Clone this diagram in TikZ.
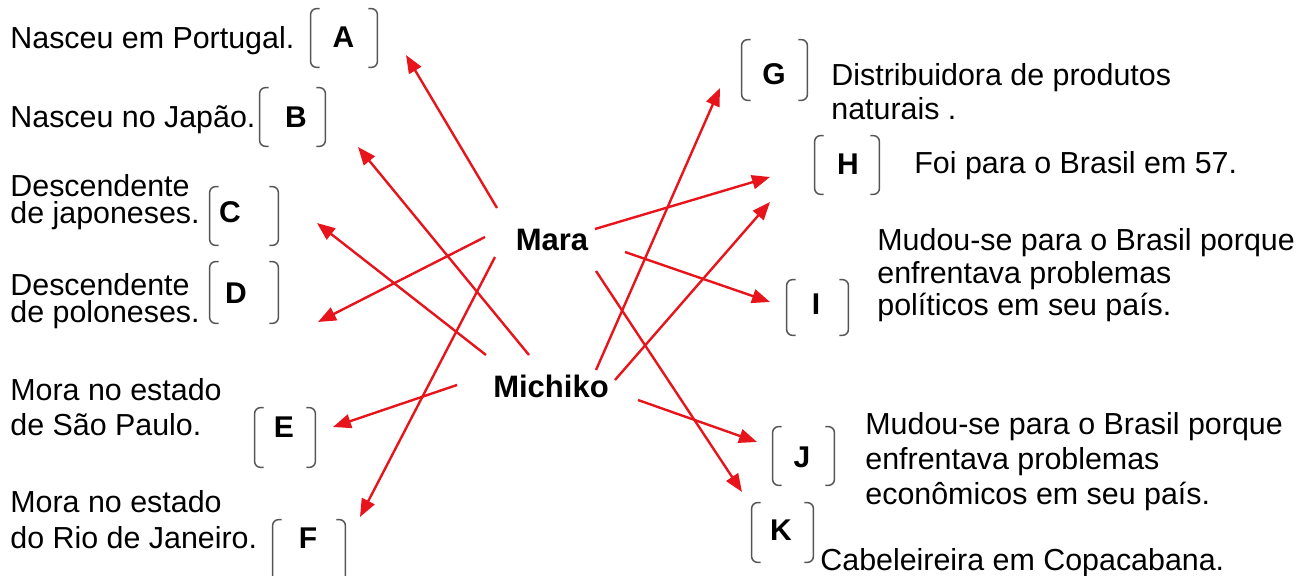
\documentclass[tikz,border=0pt]{standalone}
\usepackage{fontspec}
\setmainfont{Liberation Sans}
\usetikzlibrary{arrows.meta}
\definecolor{arrred}{HTML}{E8141C}
\definecolor{brkgray}{HTML}{555555}
\begin{document}
\begin{tikzpicture}[x=0.5pt,y=-0.5pt,
  txt/.style={anchor=base west, inner sep=0pt, align=left, font=\fontsize{15.2}{17.5}\selectfont},
  who/.style={inner sep=0pt, font=\bfseries\fontsize{15.5}{18}\selectfont},
  letter/.style={inner sep=0pt, font=\bfseries\fontsize{15}{18}\selectfont},
  bbox/.style={inner sep=0pt, draw=none},
  brk/.style={draw=brkgray, line width=0.75pt, rounded corners=3pt},
  arr/.style={draw=arrred, line width=1.2pt, -{Triangle[length=9pt,width=7pt]}},
]
\useasboundingbox (0,0) rectangle (1315,576);

% left texts (anchor = baseline of last line)
\node[txt] (tA) at (10,49) {Nasceu em Portugal.};
\node[txt] (tB) at (10,128) {Nasceu no Japão.};
\node[txt, font=\fontsize{15.2}{13.6}\selectfont] (tC) at (10,224) {Descendente\\de japoneses.};
\node[txt, font=\fontsize{15.2}{13.6}\selectfont] (tD) at (10,323) {Descendente\\de poloneses.};
\node[txt] (tE) at (10,436) {Mora no estado\\de São Paulo.};
\node[txt, font=\fontsize{15.2}{18}\selectfont] (tF) at (10,548) {Mora no estado\\do Rio de Janeiro.};

% right texts
\node[txt, font=\fontsize{15.2}{17}\selectfont] (tG) at (831,120) {Distribuidora de produtos\\naturais .};
\node[txt] (tH) at (914,174) {Foi para o Brasil em 57.};
\node[txt, font=\fontsize{15.2}{16.3}\selectfont] (tI) at (877,316) {Mudou-se para o Brasil porque\\enfrentava problemas\\políticos em seu país.};
\node[txt] (tJ) at (865,504) {Mudou-se para o Brasil porque\\enfrentava problemas\\econômicos em seu país.};
\node[txt] (tK) at (820,570) {Cabeleireira em Copacabana.};

% names
\node[who] (Mara) at (552,240) {Mara};
\node[who] (Michiko) at (551,386) {Michiko};

% bracket boxes
\node[bbox, minimum width=33pt, minimum height=29pt] (bA) at (344,38) {};
\node[bbox, minimum width=32.5pt, minimum height=29pt] (bB) at (292.5,117) {};
\node[bbox, minimum width=34pt, minimum height=29pt] (bC) at (244,216) {};
\node[bbox, minimum width=34pt, minimum height=30.5pt] (bD) at (244,292.5) {};
\node[bbox, minimum width=30pt, minimum height=29.5pt] (bE) at (285,437.5) {};
\node[bbox, minimum width=36pt, minimum height=32.5pt] (bF) at (309,552.5) {};
\node[bbox, minimum width=32.5pt, minimum height=30pt] (bG) at (774.5,70) {};
\node[bbox, minimum width=32pt, minimum height=29pt] (bH) at (847,165) {};
\node[bbox, minimum width=30.5pt, minimum height=27.5pt] (bI) at (817.5,307.5) {};
\node[bbox, minimum width=30.5pt, minimum height=29pt] (bJ) at (803.5,456) {};
\node[bbox, minimum width=30.5pt, minimum height=29.5pt] (bK) at (782.5,532.5) {};

\foreach \n in {bA,bB,bC,bD,bE,bF,bG,bH,bI,bJ,bK}{
  \draw[brk] (\n.north west) ++(9,0) -- (\n.north west) -- (\n.south west) -- ++(9,0);
  \draw[brk] (\n.north east) ++(-9,0) -- (\n.north east) -- (\n.south east) -- ++(-9,0);
}

% letters
\node[letter] (A) at (343.5,37) {A};
\node[letter] (B) at (296,117) {B};
\node[letter] (C) at (230,212) {C};
\node[letter] (D) at (236,293) {D};
\node[letter] (E) at (284,427) {E};
\node[letter] (F) at (308,538) {F};
\node[letter] (G) at (774,74) {G};
\node[letter] (H) at (848,164) {H};
\node[letter] (I) at (816,304) {I};
\node[letter] (J) at (802,457) {J};
\node[letter] (K) at (781,530) {K};

% arrow ends
\coordinate (sA) at (497,208);  \coordinate (eA) at (406,55);
\coordinate (sB) at (529,355);  \coordinate (eB) at (358,147);
\coordinate (sC) at (486,355);  \coordinate (eC) at (317,223);
\coordinate (sD) at (485,237);  \coordinate (eD) at (318,322);
\coordinate (sE) at (457,385);  \coordinate (eE) at (333,427);
\coordinate (sF) at (495,257);  \coordinate (eF) at (360,517);
\coordinate (sG) at (596,370);  \coordinate (eG) at (720,88);
\coordinate (sH1) at (595,229); \coordinate (eH1) at (770,177);
\coordinate (sH2) at (615,380); \coordinate (eH2) at (770,202);
\coordinate (sI) at (625,252);  \coordinate (eI) at (770,302);
\coordinate (sJ) at (638,400);  \coordinate (eJ) at (757,442);
\coordinate (sK) at (596,271);  \coordinate (eK) at (742,492);

\foreach \a/\b in {sA/eA,sB/eB,sC/eC,sD/eD,sE/eE,sF/eF,sG/eG,sH1/eH1,sH2/eH2,sI/eI,sJ/eJ,sK/eK}
  \draw[arr] (\a) -- (\b);
\end{tikzpicture}
\end{document}
